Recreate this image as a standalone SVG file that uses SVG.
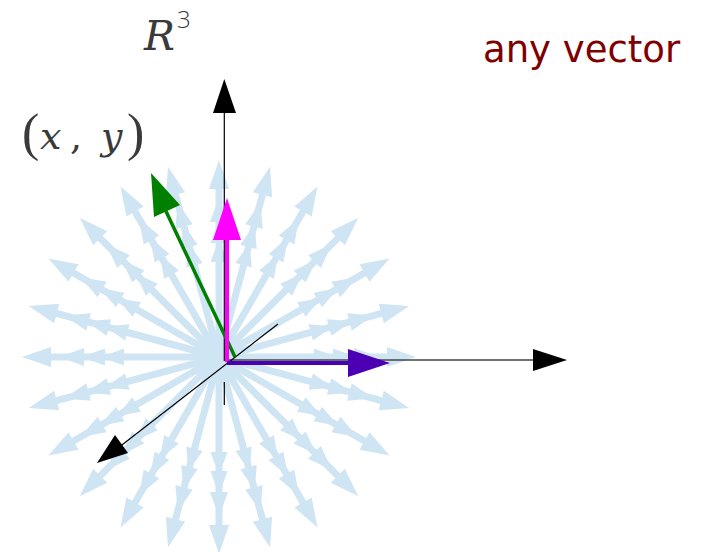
<svg xmlns="http://www.w3.org/2000/svg" xmlns:xlink="http://www.w3.org/1999/xlink" width="703" height="552" viewBox="0 0 703 552">
<style>
.ray{fill:#d0e5f3;stroke:none}
.shaft{stroke:#d0e5f3;stroke-width:7;fill:none}
.axis{stroke:#000;stroke-width:1.2;fill:none}
.math{font-family:"DejaVu Serif",serif;font-style:italic;fill:#3a3a3a}
.up{font-family:"DejaVu Serif",serif;font-style:normal;fill:#3a3a3a}
</style>
<defs>
<g id="ray">
<line class="shaft" x1="0" y1="0" x2="172" y2="0"/>
<polygon class="ray" points="197,0 168,-10 168,10"/>
<polygon class="ray" points="160,0 135,-9 135,9"/>
<polygon class="ray" points="138,0 114,-8.5 114,8.5"/>
<polygon class="ray" points="118,0 95,-8.5 95,8.5"/>
</g>
</defs>
<g id="field">
<use xlink:href="#ray" transform="translate(219,357) rotate(0)"/>
<use xlink:href="#ray" transform="translate(219,357) rotate(15)"/>
<use xlink:href="#ray" transform="translate(219,357) rotate(30)"/>
<use xlink:href="#ray" transform="translate(219,357) rotate(45)"/>
<use xlink:href="#ray" transform="translate(219,357) rotate(60)"/>
<use xlink:href="#ray" transform="translate(219,357) rotate(75)"/>
<use xlink:href="#ray" transform="translate(219,357) rotate(90)"/>
<use xlink:href="#ray" transform="translate(219,357) rotate(105)"/>
<use xlink:href="#ray" transform="translate(219,357) rotate(120)"/>
<use xlink:href="#ray" transform="translate(219,357) rotate(135)"/>
<use xlink:href="#ray" transform="translate(219,357) rotate(150)"/>
<use xlink:href="#ray" transform="translate(219,357) rotate(165)"/>
<use xlink:href="#ray" transform="translate(219,357) rotate(180)"/>
<use xlink:href="#ray" transform="translate(219,357) rotate(195)"/>
<use xlink:href="#ray" transform="translate(219,357) rotate(210)"/>
<use xlink:href="#ray" transform="translate(219,357) rotate(225)"/>
<use xlink:href="#ray" transform="translate(219,357) rotate(240)"/>
<use xlink:href="#ray" transform="translate(219,357) rotate(255)"/>
<use xlink:href="#ray" transform="translate(219,357) rotate(270)"/>
<use xlink:href="#ray" transform="translate(219,357) rotate(285)"/>
<use xlink:href="#ray" transform="translate(219,357) rotate(300)"/>
<use xlink:href="#ray" transform="translate(219,357) rotate(315)"/>
<use xlink:href="#ray" transform="translate(219,357) rotate(330)"/>
<use xlink:href="#ray" transform="translate(219,357) rotate(345)"/>
</g>
<g id="axes">
<line class="axis" x1="224.3" y1="112" x2="224.3" y2="361"/>
<polygon points="224.3,79 213,113 236,113" fill="#000"/>
<line class="axis" x1="224.3" y1="382" x2="224.3" y2="405"/>
<line x1="226" y1="360" x2="534" y2="360" stroke="#444" stroke-width="1.5"/>
<polygon points="567,360 533,349 533,371" fill="#000"/>
<line class="axis" x1="278" y1="324" x2="118" y2="448"/>
<polygon points="97,463 115,435 128,453" fill="#000"/>
</g>
<g id="vectors">
<line x1="235" y1="357" x2="163" y2="205" stroke="#008000" stroke-width="3.5"/>
<polygon points="151,173 154,217 180,205" fill="#008000"/>
<line x1="227" y1="362" x2="227" y2="238" stroke="#ff00ff" stroke-width="4"/>
<polygon points="227,198 213,240 241,240" fill="#ff00ff"/>
<line x1="227" y1="363" x2="350" y2="363" stroke="#4b00b4" stroke-width="4"/>
<polygon points="390,363 348,349 348,377" fill="#4b00b4"/>
</g>
<g id="labels">
<text class="math" x="144" y="50" font-size="41">R</text>
<text x="177" y="28" font-family="Open Sans,sans-serif" font-weight="300" font-size="24" fill="#3a3a3a">3</text>
<text x="22" y="150" font-family="Liberation Serif,serif" font-size="52" fill="#3a3a3a">(</text>
<text class="math" x="40" y="149" font-size="38">x</text>
<text class="up" x="70" y="149" font-size="38">,</text>
<text class="math" x="101" y="149" font-size="38">y</text>
<text x="127" y="150" font-family="Liberation Serif,serif" font-size="52" fill="#3a3a3a">)</text>
<text x="483" y="62" font-family="DejaVu Sans,sans-serif" font-size="37" fill="#800000">any vector</text>
</g>
</svg>
